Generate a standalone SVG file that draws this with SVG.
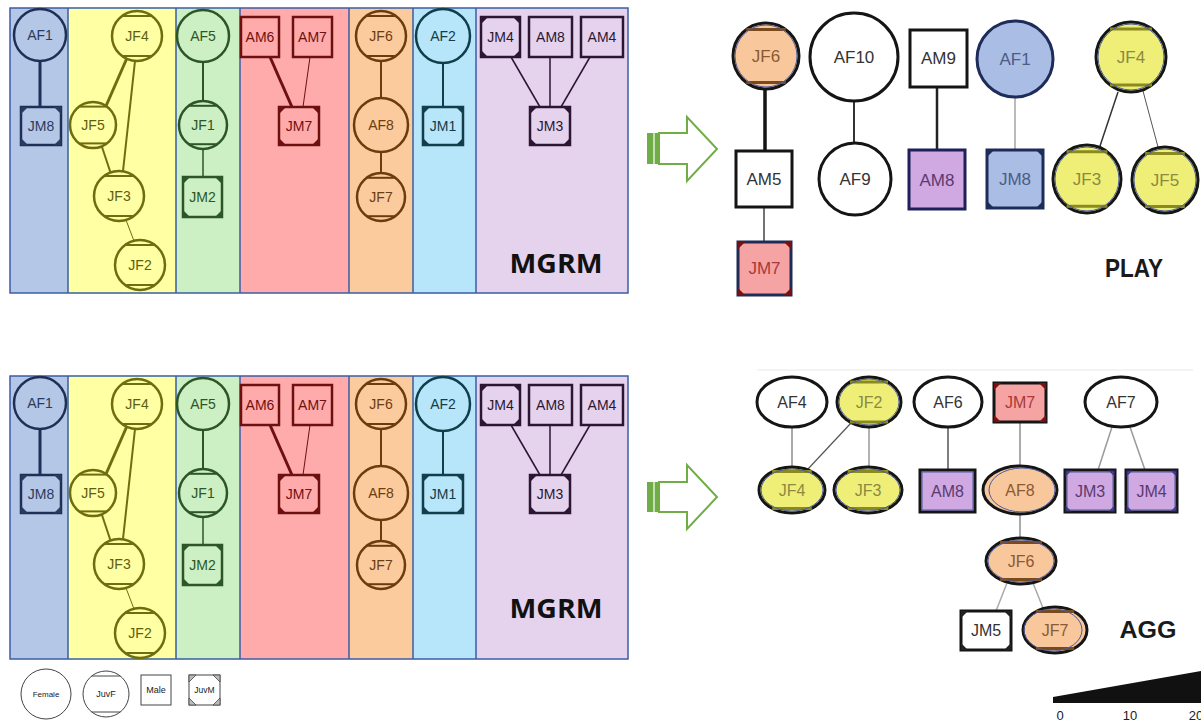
<svg xmlns="http://www.w3.org/2000/svg" width="1201" height="721" viewBox="0 0 1201 721">
<defs>
<style>
text{font-family:"Liberation Sans",Arial,sans-serif;text-anchor:middle;dominant-baseline:central}
.mg text{font-size:14px}
.mg circle,.mg rect{stroke-width:2.5}
.mg path{stroke:none}
.nb circle,.nb rect{fill:#B4C7E7;stroke:#1F3056}.nb text,.nb path{fill:#2A3B60}.nb line{stroke:#1F3056;stroke-width:2}
.ny circle,.ny rect{fill:#FFFFA3;stroke:#6E6E0E}.ny text,.ny path{fill:#5E5E10}.ny line{stroke:#6E6E0E;stroke-width:2}
.ng circle,.ng rect{fill:#CCEFC3;stroke:#2D5626}.ng text,.ng path{fill:#2D5626}.ng line{stroke:#2D5626;stroke-width:2}
.nr circle,.nr rect{fill:#FFABAB;stroke:#6E1010}.nr text,.nr path{fill:#6E1010}.nr line{stroke:#6E1010;stroke-width:2}
.no circle,.no rect{fill:#FBCB9E;stroke:#6B3D0E}.no text,.no path{fill:#6B3D0E}.no line{stroke:#6B3D0E;stroke-width:2}
.nc circle,.nc rect{fill:#B7E6FA;stroke:#123D4A}.nc text,.nc path{fill:#123D4A}.nc line{stroke:#123D4A;stroke-width:2}
.np circle,.np rect{fill:#E5D3EE;stroke:#2C1533}.np text,.np path{fill:#2C1533}.np line{stroke:#2C1533;stroke-width:2}
.mg .col-line{stroke:#3B5EA6;stroke-width:1.5;fill:none}
.mg .panel-title{font-family:"Open Sans","Liberation Sans",sans-serif;font-weight:bold;font-size:27px;fill:#111;dominant-baseline:auto}
.rg text{font-size:17px;fill:#444}
.rg circle,.rg rect,.rg ellipse{stroke:#151515;stroke-width:3}
.rg path{stroke:none}
.po circle,.po ellipse,.po rect{fill:#F8C79B}.po line{stroke:#7A4A1C;stroke-width:3}.po text{fill:#8A5A34}
.py circle,.py ellipse{fill:#EFEF78}.py line{stroke:#8A8A1E;stroke-width:3}.py text{fill:#8A8A40}
.pw circle,.pw ellipse,.pw rect{fill:#FFFFFF}.pw text{fill:#333}.pw path{fill:#222}
.pb circle,.pb rect{fill:#AABDE5;stroke:#1E2C5A}.pb text{fill:#4B5C85}.pb path{fill:#1E2C5A}
.pp rect{fill:#D0A8E2}.pp text{fill:#5A3A70}.pp path{fill:#2A2050}
.pr rect{fill:#F5A3A3}.pr text{fill:#A83A3A}.pr path{fill:#7A1010}
.rg .ring{fill:none;stroke:#4A5CA0;stroke-width:1}
.ag text{font-size:16px}
.rg .net-title{font-size:25px;font-weight:bold;fill:#1A1A1A}
.arrow-body{fill:#FFFFFF;stroke:#70AD47;stroke-width:2}
.legend circle,.legend rect{fill:#FFFFFF;stroke:#444;stroke-width:1}
.legend line{stroke:#444;stroke-width:1}
.legend text{fill:#222}
</style>
</defs>
<rect width="1201" height="721" fill="#FFFFFF"/>

<!-- ===== MGRM panel, upper ===== -->
<g id="mgrm-upper" class="mg">
  <g id="mgrm-upper-columns">
    <rect x="10" y="8" width="58" height="285" fill="#B4C7E7"/>
    <rect x="68" y="8" width="108" height="285" fill="#FFFFA3"/>
    <rect x="176" y="8" width="64" height="285" fill="#CCEFC3"/>
    <rect x="240" y="8" width="109" height="285" fill="#FFABAB"/>
    <rect x="349" y="8" width="64" height="285" fill="#FBCB9E"/>
    <rect x="413" y="8" width="63" height="285" fill="#B7E6FA"/>
    <rect x="476" y="8" width="152" height="285" fill="#E5D3EE"/>
    <rect class="col-line" x="10" y="8" width="618" height="285"/>
    <path class="col-line" d="M68 8V293M176 8V293M240 8V293M349 8V293M413 8V293M476 8V293"/>
  </g>
  <g id="mgrm-upper-connectors" fill="none">
    <line x1="40" y1="61" x2="40" y2="107" stroke="#1F3056" stroke-width="3"/>
    <line x1="127" y1="58" x2="106" y2="106" stroke="#6E6E0E" stroke-width="3"/>
    <line x1="135" y1="61" x2="123" y2="171" stroke="#6E6E0E" stroke-width="2"/>
    <path d="M142 61Q154 150 146 240" stroke="#6E6E0E" stroke-width="1.5" fill="none"/>
    <line x1="102" y1="147" x2="111" y2="174" stroke="#6E6E0E" stroke-width="2"/>
    <line x1="126" y1="220" x2="134" y2="241" stroke="#6E6E0E" stroke-width="1"/>
    <line x1="203" y1="62" x2="203" y2="102" stroke="#2D5626" stroke-width="2"/>
    <line x1="203" y1="149" x2="203" y2="177" stroke="#2D5626" stroke-width="1.5"/>
    <line x1="270" y1="57" x2="292" y2="107" stroke="#6E1010" stroke-width="3"/>
    <line x1="310" y1="57" x2="303" y2="107" stroke="#6E1010" stroke-width="1"/>
    <line x1="381" y1="61" x2="381" y2="98" stroke="#6B3D0E" stroke-width="2"/>
    <line x1="381" y1="152" x2="381" y2="173" stroke="#6B3D0E" stroke-width="2"/>
    <line x1="443" y1="63" x2="443" y2="107" stroke="#123D4A" stroke-width="2"/>
    <line x1="511" y1="57" x2="540" y2="107" stroke="#2C1533" stroke-width="1.5"/>
    <line x1="550" y1="57" x2="550" y2="107" stroke="#2C1533" stroke-width="1.5"/>
    <line x1="590" y1="57" x2="561" y2="107" stroke="#2C1533" stroke-width="1.5"/>
  </g>
  <g id="u-AF1" class="nb"><circle cx="40" cy="35" r="26"/><text x="40" y="35">AF1</text></g>
  <g id="u-JM8" class="nb"><rect x="21" y="107" width="40" height="38"/><path d="M21 107h7l-7 7zM61 107h-7l7 7zM21 145h7l-7-7zM61 145h-7l7-7z"/><text x="41" y="126">JM8</text></g>
  <g id="u-JF4" class="ny"><circle cx="137" cy="36" r="25"/><line x1="122" y1="16" x2="152" y2="16"/><line x1="122" y1="56" x2="152" y2="56"/><text x="137" y="36">JF4</text></g>
  <g id="u-JF5" class="ny"><circle cx="93" cy="125" r="23"/><line x1="79.2" y1="106.6" x2="106.8" y2="106.6"/><line x1="79.2" y1="143.4" x2="106.8" y2="143.4"/><text x="93" y="125">JF5</text></g>
  <g id="u-JF3" class="ny"><circle cx="119" cy="196" r="25"/><line x1="104" y1="176" x2="134" y2="176"/><line x1="104" y1="216" x2="134" y2="216"/><text x="119" y="196">JF3</text></g>
  <g id="u-JF2" class="ny"><circle cx="140" cy="265" r="25"/><line x1="125" y1="245" x2="155" y2="245"/><line x1="125" y1="285" x2="155" y2="285"/><text x="140" y="265">JF2</text></g>
  <g id="u-AF5" class="ng"><circle cx="203" cy="36" r="26"/><text x="203" y="36">AF5</text></g>
  <g id="u-JF1" class="ng"><circle cx="203" cy="125" r="24"/><line x1="188.6" y1="105.8" x2="217.4" y2="105.8"/><line x1="188.6" y1="144.2" x2="217.4" y2="144.2"/><text x="203" y="125">JF1</text></g>
  <g id="u-JM2" class="ng"><rect x="183" y="177" width="39" height="40"/><path d="M183 177h7l-7 7zM222 177h-7l7 7zM183 217h7l-7-7zM222 217h-7l7-7z"/><text x="202.5" y="197">JM2</text></g>
  <g id="u-AM6" class="nr"><rect x="241" y="17" width="38" height="40"/><text x="260" y="37">AM6</text></g>
  <g id="u-AM7" class="nr"><rect x="293" y="17" width="39" height="40"/><text x="312.5" y="37">AM7</text></g>
  <g id="u-JM7" class="nr"><rect x="279" y="107" width="40" height="38"/><path d="M279 107h7l-7 7zM319 107h-7l7 7zM279 145h7l-7-7zM319 145h-7l7-7z"/><text x="299" y="126">JM7</text></g>
  <g id="u-JF6" class="no"><circle cx="381" cy="36" r="25"/><line x1="366" y1="16" x2="396" y2="16"/><line x1="366" y1="56" x2="396" y2="56"/><text x="381" y="36">JF6</text></g>
  <g id="u-AF8" class="no"><circle cx="381" cy="125" r="27"/><text x="381" y="125">AF8</text></g>
  <g id="u-JF7" class="no"><circle cx="381" cy="197" r="24"/><line x1="366.6" y1="177.8" x2="395.4" y2="177.8"/><line x1="366.6" y1="216.2" x2="395.4" y2="216.2"/><text x="381" y="197">JF7</text></g>
  <g id="u-AF2" class="nc"><circle cx="443" cy="36" r="27"/><text x="443" y="36">AF2</text></g>
  <g id="u-JM1" class="nc"><rect x="423" y="107" width="40" height="38"/><path d="M423 107h7l-7 7zM463 107h-7l7 7zM423 145h7l-7-7zM463 145h-7l7-7z"/><text x="443" y="126">JM1</text></g>
  <g id="u-JM4" class="np"><rect x="481" y="17" width="39" height="40"/><path d="M481 17h7l-7 7zM520 17h-7l7 7zM481 57h7l-7-7zM520 57h-7l7-7z"/><text x="500.5" y="37">JM4</text></g>
  <g id="u-AM8" class="np"><rect x="529" y="17" width="43" height="40"/><text x="550.5" y="37">AM8</text></g>
  <g id="u-AM4" class="np"><rect x="581" y="17" width="42" height="40"/><text x="602" y="37">AM4</text></g>
  <g id="u-JM3" class="np"><rect x="530" y="107" width="40" height="38"/><path d="M530 107h7l-7 7zM570 107h-7l7 7zM530 145h7l-7-7zM570 145h-7l7-7z"/><text x="550" y="126">JM3</text></g>
  <text class="panel-title" x="556" y="273" textLength="93" lengthAdjust="spacingAndGlyphs">MGRM</text>
</g>

<!-- ===== MGRM panel, lower (same layout, shifted down) ===== -->
<g id="mgrm-lower" class="mg" transform="translate(0,368)">
  <g id="mgrm-lower-columns">
    <rect x="10" y="8" width="58" height="283" fill="#B4C7E7"/>
    <rect x="68" y="8" width="108" height="283" fill="#FFFFA3"/>
    <rect x="176" y="8" width="64" height="283" fill="#CCEFC3"/>
    <rect x="240" y="8" width="109" height="283" fill="#FFABAB"/>
    <rect x="349" y="8" width="64" height="283" fill="#FBCB9E"/>
    <rect x="413" y="8" width="63" height="283" fill="#B7E6FA"/>
    <rect x="476" y="8" width="152" height="283" fill="#E5D3EE"/>
    <rect class="col-line" x="10" y="8" width="618" height="283"/>
    <path class="col-line" d="M68 8V291M176 8V291M240 8V291M349 8V291M413 8V291M476 8V291"/>
  </g>
  <g id="mgrm-lower-connectors" fill="none">
    <line x1="40" y1="61" x2="40" y2="107" stroke="#1F3056" stroke-width="3"/>
    <line x1="127" y1="58" x2="106" y2="106" stroke="#6E6E0E" stroke-width="3"/>
    <line x1="135" y1="61" x2="123" y2="171" stroke="#6E6E0E" stroke-width="2"/>
    <path d="M142 61Q154 150 146 240" stroke="#6E6E0E" stroke-width="1.5" fill="none"/>
    <line x1="102" y1="147" x2="111" y2="174" stroke="#6E6E0E" stroke-width="2"/>
    <line x1="126" y1="220" x2="134" y2="241" stroke="#6E6E0E" stroke-width="1"/>
    <line x1="203" y1="62" x2="203" y2="102" stroke="#2D5626" stroke-width="2"/>
    <line x1="203" y1="149" x2="203" y2="177" stroke="#2D5626" stroke-width="1.5"/>
    <line x1="270" y1="57" x2="292" y2="107" stroke="#6E1010" stroke-width="3"/>
    <line x1="310" y1="57" x2="303" y2="107" stroke="#6E1010" stroke-width="1"/>
    <line x1="381" y1="61" x2="381" y2="98" stroke="#6B3D0E" stroke-width="2"/>
    <line x1="381" y1="152" x2="381" y2="173" stroke="#6B3D0E" stroke-width="2"/>
    <line x1="443" y1="63" x2="443" y2="107" stroke="#123D4A" stroke-width="2"/>
    <line x1="511" y1="57" x2="540" y2="107" stroke="#2C1533" stroke-width="1.5"/>
    <line x1="550" y1="57" x2="550" y2="107" stroke="#2C1533" stroke-width="1.5"/>
    <line x1="590" y1="57" x2="561" y2="107" stroke="#2C1533" stroke-width="1.5"/>
  </g>
  <g id="l-AF1" class="nb"><circle cx="40" cy="35" r="26"/><text x="40" y="35">AF1</text></g>
  <g id="l-JM8" class="nb"><rect x="21" y="107" width="40" height="38"/><path d="M21 107h7l-7 7zM61 107h-7l7 7zM21 145h7l-7-7zM61 145h-7l7-7z"/><text x="41" y="126">JM8</text></g>
  <g id="l-JF4" class="ny"><circle cx="137" cy="36" r="25"/><line x1="122" y1="16" x2="152" y2="16"/><line x1="122" y1="56" x2="152" y2="56"/><text x="137" y="36">JF4</text></g>
  <g id="l-JF5" class="ny"><circle cx="93" cy="125" r="23"/><line x1="79.2" y1="106.6" x2="106.8" y2="106.6"/><line x1="79.2" y1="143.4" x2="106.8" y2="143.4"/><text x="93" y="125">JF5</text></g>
  <g id="l-JF3" class="ny"><circle cx="119" cy="196" r="25"/><line x1="104" y1="176" x2="134" y2="176"/><line x1="104" y1="216" x2="134" y2="216"/><text x="119" y="196">JF3</text></g>
  <g id="l-JF2" class="ny"><circle cx="140" cy="265" r="25"/><line x1="125" y1="245" x2="155" y2="245"/><line x1="125" y1="285" x2="155" y2="285"/><text x="140" y="265">JF2</text></g>
  <g id="l-AF5" class="ng"><circle cx="203" cy="36" r="26"/><text x="203" y="36">AF5</text></g>
  <g id="l-JF1" class="ng"><circle cx="203" cy="125" r="24"/><line x1="188.6" y1="105.8" x2="217.4" y2="105.8"/><line x1="188.6" y1="144.2" x2="217.4" y2="144.2"/><text x="203" y="125">JF1</text></g>
  <g id="l-JM2" class="ng"><rect x="183" y="177" width="39" height="40"/><path d="M183 177h7l-7 7zM222 177h-7l7 7zM183 217h7l-7-7zM222 217h-7l7-7z"/><text x="202.5" y="197">JM2</text></g>
  <g id="l-AM6" class="nr"><rect x="241" y="17" width="38" height="40"/><text x="260" y="37">AM6</text></g>
  <g id="l-AM7" class="nr"><rect x="293" y="17" width="39" height="40"/><text x="312.5" y="37">AM7</text></g>
  <g id="l-JM7" class="nr"><rect x="279" y="107" width="40" height="38"/><path d="M279 107h7l-7 7zM319 107h-7l7 7zM279 145h7l-7-7zM319 145h-7l7-7z"/><text x="299" y="126">JM7</text></g>
  <g id="l-JF6" class="no"><circle cx="381" cy="36" r="25"/><line x1="366" y1="16" x2="396" y2="16"/><line x1="366" y1="56" x2="396" y2="56"/><text x="381" y="36">JF6</text></g>
  <g id="l-AF8" class="no"><circle cx="381" cy="125" r="27"/><text x="381" y="125">AF8</text></g>
  <g id="l-JF7" class="no"><circle cx="381" cy="197" r="24"/><line x1="366.6" y1="177.8" x2="395.4" y2="177.8"/><line x1="366.6" y1="216.2" x2="395.4" y2="216.2"/><text x="381" y="197">JF7</text></g>
  <g id="l-AF2" class="nc"><circle cx="443" cy="36" r="27"/><text x="443" y="36">AF2</text></g>
  <g id="l-JM1" class="nc"><rect x="423" y="107" width="40" height="38"/><path d="M423 107h7l-7 7zM463 107h-7l7 7zM423 145h7l-7-7zM463 145h-7l7-7z"/><text x="443" y="126">JM1</text></g>
  <g id="l-JM4" class="np"><rect x="481" y="17" width="39" height="40"/><path d="M481 17h7l-7 7zM520 17h-7l7 7zM481 57h7l-7-7zM520 57h-7l7-7z"/><text x="500.5" y="37">JM4</text></g>
  <g id="l-AM8" class="np"><rect x="529" y="17" width="43" height="40"/><text x="550.5" y="37">AM8</text></g>
  <g id="l-AM4" class="np"><rect x="581" y="17" width="42" height="40"/><text x="602" y="37">AM4</text></g>
  <g id="l-JM3" class="np"><rect x="530" y="107" width="40" height="38"/><path d="M530 107h7l-7 7zM570 107h-7l7 7zM530 145h7l-7-7zM570 145h-7l7-7z"/><text x="550" y="126">JM3</text></g>
  <text class="panel-title" x="556" y="250" textLength="93" lengthAdjust="spacingAndGlyphs">MGRM</text>
</g>

<!-- ===== striped block arrows ===== -->
<g id="arrow-upper">
  <rect x="647" y="133" width="12" height="31" fill="#70AD47"/>
  <rect x="653" y="133" width="2" height="31" fill="#C5E0B4"/>
  <path class="arrow-body" d="M659 133H687V117L717 149L687 181V164H659Z"/>
</g>
<g id="arrow-lower">
  <rect x="647" y="482" width="12" height="30" fill="#70AD47"/>
  <rect x="653" y="482" width="2" height="30" fill="#C5E0B4"/>
  <path class="arrow-body" d="M659 482H687V465L717 497L687 529V512H659Z"/>
</g>

<!-- ===== PLAY network ===== -->
<g id="play" class="rg">
  <g id="play-connectors" fill="none">
    <line x1="765" y1="89" x2="765" y2="151" stroke="#151515" stroke-width="3.5"/>
    <line x1="764" y1="207" x2="764" y2="242" stroke="#444" stroke-width="1.5"/>
    <line x1="854" y1="101" x2="854" y2="143" stroke="#333" stroke-width="2"/>
    <line x1="937" y1="87" x2="937" y2="150" stroke="#222" stroke-width="2.5"/>
    <line x1="1015" y1="97" x2="1015" y2="150" stroke="#BBBBBB" stroke-width="2"/>
    <line x1="1118" y1="92" x2="1100" y2="146" stroke="#333" stroke-width="1.5"/>
    <line x1="1143" y1="91" x2="1158" y2="147" stroke="#555" stroke-width="1"/>
  </g>
  <g id="play-JF6" class="po"><circle cx="766" cy="56" r="33"/><line x1="746.2" y1="29.6" x2="785.8" y2="29.6"/><line x1="746.2" y1="82.4" x2="785.8" y2="82.4"/><circle class="ring" cx="766" cy="56" r="31"/><text x="766" y="56">JF6</text></g>
  <g id="play-AF10" class="pw"><circle cx="854" cy="57" r="44"/><text x="854" y="57">AF10</text></g>
  <g id="play-AM9" class="pw"><rect x="910" y="30" width="57" height="57"/><text x="938.5" y="58">AM9</text></g>
  <g id="play-AF1" class="pb"><circle cx="1015" cy="59" r="38"/><text x="1015" y="59">AF1</text></g>
  <g id="play-JF4" class="py"><circle cx="1131" cy="57" r="35"/><line x1="1110" y1="29" x2="1152" y2="29"/><line x1="1110" y1="85" x2="1152" y2="85"/><circle class="ring" cx="1131" cy="57" r="33"/><text x="1131" y="57">JF4</text></g>
  <g id="play-AM5" class="pw"><rect x="736" y="151" width="56" height="56"/><text x="764" y="179">AM5</text></g>
  <g id="play-AF9" class="pw"><circle cx="855" cy="179" r="36"/><text x="855" y="179">AF9</text></g>
  <g id="play-AM8" class="pp"><rect x="909" y="150" width="56" height="59" style="stroke:#1F1F5A"/><text x="937" y="180">AM8</text></g>
  <g id="play-JM8" class="pb"><rect x="987" y="150" width="56" height="58"/><path d="M987 150h7l-7 7zM1043 150h-7l7 7zM987 208h7l-7-7zM1043 208h-7l7-7z"/><text x="1015" y="179">JM8</text></g>
  <g id="play-JF3" class="py"><circle cx="1087" cy="179" r="34"/><line x1="1066.6" y1="151.8" x2="1107.4" y2="151.8"/><line x1="1066.6" y1="206.2" x2="1107.4" y2="206.2"/><circle class="ring" cx="1087" cy="179" r="32"/><text x="1087" y="179">JF3</text></g>
  <g id="play-JF5" class="py"><circle cx="1165" cy="180" r="33"/><line x1="1145.2" y1="153.6" x2="1184.8" y2="153.6"/><line x1="1145.2" y1="206.4" x2="1184.8" y2="206.4"/><circle class="ring" cx="1165" cy="180" r="31"/><text x="1165" y="180">JF5</text></g>
  <g id="play-JM7" class="pr"><rect x="738" y="242" width="53" height="53" style="stroke:#1F2A55"/><path d="M738 242h7l-7 7zM791 242h-7l7 7zM738 295h7l-7-7zM791 295h-7l7-7z"/><text x="764.5" y="268">JM7</text></g>
  <text class="net-title" x="1134" y="268" textLength="58" lengthAdjust="spacingAndGlyphs">PLAY</text>
</g>

<!-- ===== AGG network ===== -->
<g id="agg" class="rg ag">
  <line x1="757" y1="370" x2="1193" y2="370" stroke="#E8E8E8" stroke-width="1"/>
  <g id="agg-connectors" fill="none">
    <line x1="792" y1="427" x2="792" y2="467" stroke="#AAAAAA" stroke-width="2"/>
    <line x1="851" y1="423" x2="808" y2="469" stroke="#555" stroke-width="1.2"/>
    <line x1="869" y1="427" x2="869" y2="467" stroke="#999" stroke-width="1.5"/>
    <line x1="948" y1="427" x2="948" y2="470" stroke="#555" stroke-width="1.5"/>
    <line x1="1020" y1="422" x2="1020" y2="466" stroke="#AAAAAA" stroke-width="2"/>
    <line x1="1112" y1="427" x2="1098" y2="470" stroke="#999" stroke-width="1.5"/>
    <line x1="1130" y1="427" x2="1145" y2="470" stroke="#999" stroke-width="1.5"/>
    <line x1="1020" y1="514" x2="1020" y2="538" stroke="#AAAAAA" stroke-width="2"/>
    <line x1="1007" y1="583" x2="996" y2="611" stroke="#AAAAAA" stroke-width="1.5"/>
    <line x1="1033" y1="583" x2="1043" y2="608" stroke="#AAAAAA" stroke-width="1.5"/>
  </g>
  <g id="agg-AF4" class="pw"><ellipse cx="792" cy="402" rx="35" ry="25"/><text x="792" y="402">AF4</text></g>
  <g id="agg-JF2" class="py"><ellipse cx="869" cy="402" rx="32" ry="25"/><line x1="850" y1="382" x2="888" y2="382"/><line x1="850" y1="422" x2="888" y2="422"/><ellipse class="ring" cx="869" cy="402" rx="30" ry="23"/><text x="869" y="402">JF2</text></g>
  <g id="agg-AF6" class="pw"><ellipse cx="948" cy="402" rx="34" ry="25"/><text x="948" y="402">AF6</text></g>
  <g id="agg-JM7" class="pr"><rect x="994" y="383" width="52" height="39"/><path d="M994 383h7l-7 7zM1046 383h-7l7 7zM994 422h7l-7-7zM1046 422h-7l7-7z"/><text x="1020" y="402.5">JM7</text></g>
  <g id="agg-AF7" class="pw"><ellipse cx="1121" cy="402" rx="36" ry="25"/><text x="1121" y="402">AF7</text></g>
  <g id="agg-JF4" class="py"><ellipse cx="792" cy="490" rx="33" ry="23"/><line x1="772.2" y1="471.6" x2="811.8" y2="471.6"/><line x1="772.2" y1="508.4" x2="811.8" y2="508.4"/><ellipse class="ring" cx="792" cy="490" rx="31" ry="21"/><text x="792" y="490">JF4</text></g>
  <g id="agg-JF3" class="py"><ellipse cx="868" cy="490" rx="34" ry="23"/><line x1="847.6" y1="471.6" x2="888.4" y2="471.6"/><line x1="847.6" y1="508.4" x2="888.4" y2="508.4"/><ellipse class="ring" cx="868" cy="490" rx="32" ry="21"/><text x="868" y="490">JF3</text></g>
  <g id="agg-AM8" class="pp"><rect x="920" y="470" width="55" height="42"/><rect class="ring" x="922" y="472" width="51" height="38"/><text x="947.5" y="491">AM8</text></g>
  <g id="agg-AF8" class="po"><ellipse cx="1020" cy="490" rx="37" ry="24"/><ellipse class="ring" cx="1022" cy="490" rx="33" ry="22"/><text x="1020" y="490">AF8</text></g>
  <g id="agg-JM3" class="pp"><rect x="1065" y="470" width="50" height="42"/><path d="M1065 470h7l-7 7zM1115 470h-7l7 7zM1065 512h7l-7-7zM1115 512h-7l7-7z"/><rect class="ring" x="1067" y="472" width="46" height="38"/><text x="1090" y="491">JM3</text></g>
  <g id="agg-JM4" class="pp"><rect x="1126" y="470" width="51" height="42"/><path d="M1126 470h7l-7 7zM1177 470h-7l7 7zM1126 512h7l-7-7zM1177 512h-7l7-7z"/><rect class="ring" x="1128" y="472" width="47" height="38"/><text x="1151.5" y="491">JM4</text></g>
  <g id="agg-JF6" class="po"><ellipse cx="1021" cy="561" rx="35" ry="23"/><line x1="1000" y1="542.6" x2="1042" y2="542.6"/><line x1="1000" y1="579.4" x2="1042" y2="579.4"/><ellipse class="ring" cx="1021" cy="561" rx="33" ry="21"/><text x="1021" y="561">JF6</text></g>
  <g id="agg-JM5" class="pw"><rect x="961" y="611" width="50" height="39"/><path d="M961 611h7l-7 7zM1011 611h-7l7 7zM961 650h7l-7-7zM1011 650h-7l7-7z"/><text x="986" y="630.5">JM5</text></g>
  <g id="agg-JF7" class="po"><ellipse cx="1055" cy="630" rx="32" ry="23"/><line x1="1035.8" y1="611.6" x2="1074.2" y2="611.6"/><line x1="1035.8" y1="648.4" x2="1074.2" y2="648.4"/><ellipse class="ring" cx="1053" cy="630" rx="29" ry="21"/><text x="1055" y="630">JF7</text></g>
  <text class="net-title" x="1148" y="629" textLength="57" lengthAdjust="spacingAndGlyphs" style="font-size:24px">AGG</text>
</g>

<!-- ===== symbol key ===== -->
<g id="legend" class="legend">
  <g id="key-female"><circle cx="46" cy="694" r="25"/><text x="46" y="694" font-size="8">Female</text></g>
  <g id="key-juvf"><circle cx="106" cy="694" r="23"/><line x1="91.7" y1="676" x2="120.3" y2="676"/><line x1="91.7" y1="712" x2="120.3" y2="712"/><text x="106" y="694" font-size="9">JuvF</text></g>
  <g id="key-male"><rect x="141" y="675" width="30" height="30"/><text x="156" y="690" font-size="9">Male</text></g>
  <g id="key-juvm"><rect x="189" y="675" width="31" height="30"/><path d="M189 675h7l-7 7zM220 675h-7l7 7zM189 705h7l-7-7zM220 705h-7l7-7z" fill="#BBBBBB" stroke="#444" stroke-width="0.8"/><text x="204.5" y="690" font-size="8.5">JuvM</text></g>
</g>

<!-- ===== interaction-rate scale ===== -->
<g id="scale">
  <path d="M1053 697L1201 671V703H1053Z" fill="#111111"/>
  <text x="1060" y="715" font-size="13" fill="#222">0</text>
  <text x="1130" y="715" font-size="13" fill="#222">10</text>
  <text x="1196" y="715" font-size="13" fill="#222">20</text>
</g>
</svg>
